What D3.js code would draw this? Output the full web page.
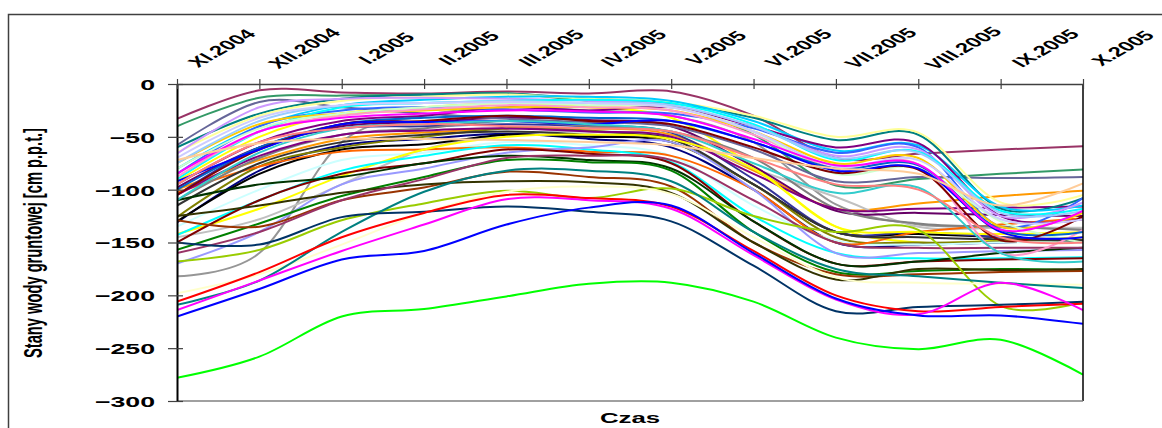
<!DOCTYPE html>
<html>
<head>
<meta charset="utf-8">
<script src="https://cdn.jsdelivr.net/npm/d3@7/dist/d3.min.js"></script>
<style>
body{margin:0;background:#fff;}
svg{display:block;}
</style>
</head>
<body>
<div id="chart"></div>
<script>
// miesiace (os X na gorze)
var months = ["XI.2004","XII.2004","I.2005","II.2005","III.2005","IV.2005","V.2005","VI.2005","VII.2005","VIII.2005","IX.2005","X.2005"];
var yTicks = [0,-50,-100,-150,-200,-250,-300];

// studnie - gorna wiazka (spadek VIII -> IX)
var topWells = [
  [-33,-6,-8,-9,-7,-9,-7,-30,-70,-66,-62,-59],
  [-40,-13,-11,-10,-9,-16,-20,-48,-96,-90,-85,-81],
  [-58,-17,-22,-28,-33,-36,-40,-62,-92,-88,-89,-88],
  [-60,-28,-14,-10,-9,-14,-18,-32,-53,-48,-118,-108],
  [-65,-30,-16,-12,-10,-14,-17,-30,-50,-46,-112,-105],
  [-80,-40,-20,-15,-12,-12,-16,-35,-63,-58,-116,-115],
  [-95,-55,-35,-30,-22,-25,-22,-40,-60,-56,-125,-128],
  [-85,-40,-25,-22,-24,-27,-28,-42,-65,-60,-135,-108],
  [-66,-22,-14,-13,-14,-16,-20,-40,-68,-62,-125,-112],
  [-90,-45,-22,-18,-16,-15,-18,-38,-72,-64,-120,-118],
  [-75,-38,-28,-25,-22,-22,-25,-45,-75,-70,-135,-122],
  [-88,-45,-30,-24,-20,-22,-25,-48,-80,-76,-160,-138],
  [-80,-42,-28,-22,-18,-20,-22,-45,-85,-80,-130,-150],
  [-75,-35,-20,-18,-16,-18,-20,-40,-70,-65,-122,-120],
  [-100,-60,-38,-32,-30,-32,-35,-55,-80,-77,-138,-140],
  [-105,-62,-38,-35,-30,-35,-38,-60,-84,-81,-148,-125],
  [-70,-32,-20,-18,-17,-18,-22,-45,-78,-72,-128,-128],
  [-92,-62,-38,-36,-35,-38,-35,-55,-82,-80,-140,-145],
  [-85,-45,-32,-28,-25,-26,-30,-52,-77,-76,-138,-120],
  [-110,-65,-42,-38,-35,-38,-45,-75,-103,-98,-160,-168],
  [-95,-55,-42,-38,-40,-42,-45,-70,-95,-100,-145,-150],
  [-72,-56,-52,-52,-53,-55,-58,-70,-80,-85,-115,-94]
];
var topColors = ["#993366","#339966","#666699","#008080","#ffff99","#00ccff","#800080","#3366ff","#cc99ff","#00ffff","#ffcc00","#ff99cc","#ccffcc","#99ccff","#0066cc","#800000","#ccccff","#0000ff","#ff00ff","#33cccc","#ff8080","#ffcc99"];

// srodkowa wiazka (spadek V -> VII, potem plasko)
var midWells = [
  [-100,-72,-52,-46,-42,-42,-48,-82,-118,-113,-106,-101],
  [-182,-160,-55,-30,-22,-25,-30,-55,-114,-133,-135,-138],
  [-145,-128,-95,-62,-48,-45,-50,-80,-107,-135,-136,-136],
  [-92,-50,-28,-22,-18,-22,-32,-78,-135,-150,-148,-145],
  [-131,-82,-58,-52,-47,-52,-60,-100,-150,-152,-150,-148],
  [-130,-85,-62,-57,-48,-50,-55,-95,-140,-142,-145,-148],
  [-105,-60,-42,-40,-38,-40,-46,-90,-140,-140,-145,-150],
  [-98,-60,-40,-36,-32,-34,-40,-78,-120,-122,-124,-125],
  [-126,-78,-60,-50,-42,-44,-55,-95,-145,-150,-149,-148],
  [-135,-100,-72,-65,-55,-58,-68,-115,-148,-152,-150,-150],
  [-103,-78,-64,-62,-60,-64,-68,-100,-150,-140,-133,-127],
  [-115,-75,-55,-48,-45,-48,-52,-95,-140,-145,-147,-148],
  [-110,-70,-48,-42,-35,-40,-45,-70,-118,-132,-135,-138],
  [-105,-68,-48,-44,-42,-45,-50,-85,-118,-118,-117,-116],
  [-142,-118,-87,-62,-50,-48,-52,-80,-135,-140,-142,-140],
  [-143,-110,-82,-68,-58,-62,-74,-125,-160,-165,-165,-164],
  [-170,-140,-95,-80,-65,-60,-55,-100,-160,-160,-158,-157],
  [-150,-110,-85,-75,-62,-66,-75,-130,-170,-168,-166,-165],
  [-110,-95,-88,-75,-68,-72,-80,-130,-170,-168,-160,-155],
  [-157,-132,-106,-88,-72,-74,-82,-140,-178,-177,-175,-176],
  [-129,-135,-110,-98,-83,-88,-97,-150,-180,-180,-178,-177],
  [-125,-115,-103,-95,-92,-93,-103,-150,-185,-175,-176,-175],
  [-160,-140,-110,-90,-70,-68,-72,-110,-150,-155,-155,-155]
];
var midColors = ["#ff9900","#969696","#c0c0c0","#ffff00","#000080","#000000","#333399","#660066","#808000","#ccffff","#ff6600","#333333","#808080","#800080","#ffff00","#00ffff","#9999ff","#800000","#003300","#008000","#993300","#333300","#993366"];

// najnizsze studnie
var lowWells = [
  [-168,-157,-129,-113,-101,-108,-99,-125,-140,-138,-210,-206],
  [-198,-180,-152,-122,-102,-97,-104,-145,-183,-188,-189,-190],
  [-209,-186,-140,-102,-82,-82,-92,-140,-175,-182,-188,-193],
  [-150,-152,-126,-121,-116,-121,-130,-172,-215,-211,-209,-206],
  [-206,-178,-145,-122,-105,-108,-116,-158,-200,-215,-211,-208],
  [-214,-186,-158,-133,-109,-110,-118,-162,-204,-218,-188,-214],
  [-220,-194,-166,-158,-133,-117,-115,-160,-203,-219,-219,-227],
  [-278,-258,-220,-213,-201,-189,-188,-206,-240,-251,-242,-275]
];
var lowColors = ["#99cc00","#ffffcc","#008080","#003366","#ff0000","#ff00ff","#0000ff","#00ff00"];

var W = 1162, H = 428;
var plotL = 177, plotR = 1083, plotT = 84, plotB = 401;
var sx = 1.78; // tekst w oryginale jest rozciagniety poziomo

var svg = d3.select("#chart").append("svg")
  .attr("width", W)
  .attr("height", H)
  .style("font-family", "'Liberation Sans', Arial, sans-serif");

svg.append("rect").attr("width", W).attr("height", H).attr("fill", "#fff");

// ramka wykresu
svg.append("rect")
  .attr("x", 8.5).attr("y", 14.5)
  .attr("width", 1170).attr("height", 430)
  .attr("fill", "none")
  .attr("stroke", "#404040")
  .attr("stroke-width", 1.5);

var x = d3.scalePoint().domain(months).range([plotL, plotR]);
var y = d3.scaleLinear().domain([-300, 0]).range([plotB, plotT]);

svg.append("clipPath").attr("id", "plotClip")
  .append("rect")
  .attr("x", plotL).attr("y", plotT)
  .attr("width", plotR - plotL).attr("height", plotB - plotT);

// linie
var line = d3.line()
  .x(function(d, i){ return x(months[i]); })
  .y(function(d){ return y(d); })
  .curve(d3.curveCardinal.tension(0));

var plot = svg.append("g").attr("clip-path", "url(#plotClip)");

function drawGroup(data, colors){
  plot.append("g").selectAll("path")
    .data(data)
    .join("path")
    .attr("d", line)
    .attr("fill", "none")
    .attr("stroke", function(d, i){ return colors[i]; })
    .attr("stroke-width", 2);
}
drawGroup(midWells, midColors);
drawGroup(topWells, topColors);
drawGroup(lowWells, lowColors);

// prawa i dolna krawedz
svg.append("line")
  .attr("x1", plotR).attr("x2", plotR).attr("y1", plotT).attr("y2", plotB)
  .attr("stroke", "#000").attr("stroke-width", 1.5);
svg.append("line")
  .attr("x1", plotL).attr("x2", plotR).attr("y1", plotB).attr("y2", plotB)
  .attr("stroke", "#808080").attr("stroke-width", 1.5);

// os Y
var yAxis = d3.axisLeft(y).tickValues(yTicks).tickSizeInner(9).tickSizeOuter(0);
var gy = svg.append("g")
  .attr("transform", "translate(" + plotL + ",0)")
  .call(yAxis);
gy.select(".domain").attr("stroke", "#000").attr("stroke-width", 2);
gy.selectAll(".tick line").attr("x1", 6).attr("stroke", "#404040").attr("stroke-width", 1.2);
gy.selectAll(".tick text")
  .attr("x", null)
  .attr("dy", "0.36em")
  .attr("text-anchor", "end")
  .attr("transform", "translate(" + (155 - plotL) + ",0) scale(" + sx + ",1)")
  .attr("fill", "#000")
  .attr("font-size", 15)
  .attr("font-weight", "bold");

// os X (na gorze)
var xAxis = d3.axisTop(x).tickSizeInner(5).tickSizeOuter(0);
var gx = svg.append("g")
  .attr("transform", "translate(0," + plotT + ")")
  .call(xAxis);
gx.select(".domain").attr("stroke", "#404040").attr("stroke-width", 1.5);
gx.selectAll(".tick line").attr("y1", 5).attr("stroke", "#404040").attr("stroke-width", 1.2);
gx.selectAll(".tick text")
  .attr("y", null)
  .attr("dy", "0.36em")
  .attr("text-anchor", "middle")
  .attr("transform", function(d, i){
    var off = (i == months.length - 1) ? 39 : 44; // ostatni nie moze wyjsc za krawedz
    return "translate(" + off + ",-36) scale(" + sx + ",1) rotate(-45)";
  })
  .attr("fill", "#000")
  .attr("font-size", 13.5)
  .attr("font-weight", "bold");

// opisy osi
svg.append("text")
  .attr("transform", "translate(" + ((plotL + plotR) / 2) + ",423) scale(" + sx + ",1)")
  .attr("text-anchor", "middle")
  .attr("font-size", 14.5)
  .attr("font-weight", "bold")
  .text("Czas");

svg.append("text")
  .attr("transform", "translate(33,243) scale(" + sx + ",1) rotate(-90)")
  .attr("text-anchor", "middle")
  .attr("dy", "0.36em")
  .attr("font-size", 14)
  .attr("font-weight", "bold")
  .attr("textLength", 230)
  .attr("lengthAdjust", "spacingAndGlyphs")
  .text("Stany wody gruntowej [cm p.p.t.]");
</script>
</body>
</html>
